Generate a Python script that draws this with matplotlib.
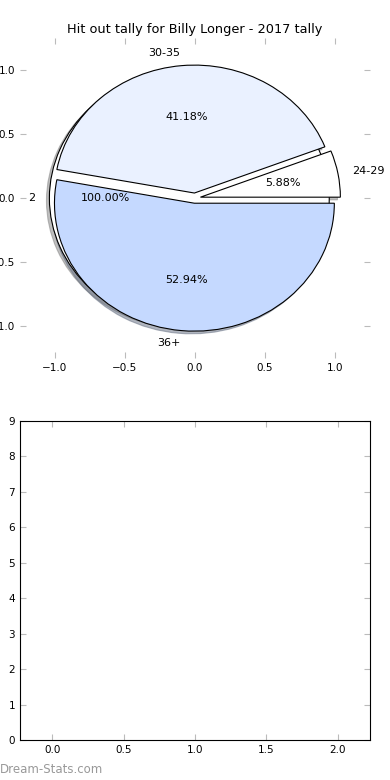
import matplotlib
matplotlib.use("Agg")
import matplotlib.pyplot as plt

# dati della torta
fasce = ["24-29", "30-35", "36+"]
valori = [1, 7, 9]
colori = ["#ffffff", "#eaf1ff", "#c5d9ff"]

# torta di sfondo (un solo spicchio)
sfondo_label = ["2"]
sfondo_val = [2]

# barre (tutte a zero)
barre_x = [0, 1, 2]
barre_y = [0, 0, 0]

titolo = "Hit out tally for Billy Longer - 2017 tally"

ombra = {"ox": -0.015, "oy": -0.015, "shade": 0.5}
bordi = {"edgecolor": "black", "linewidth": 0.8}

fig = plt.figure(figsize=(3.9, 7.8), dpi=100)

ax1 = fig.add_axes([0.0513, 0.541, 0.897, 0.41])
ax1.pie(sfondo_val, labels=sfondo_label, autopct="%1.2f%%", colors=["white"],
        explode=[0.04], shadow=ombra, frame=True, wedgeprops=bordi,
        textprops={"fontsize": 8})
ax1.pie(valori, labels=fasce, autopct="%1.2f%%", colors=colori,
        explode=[0.04, 0.04, 0.04], shadow=ombra, frame=True,
        wedgeprops=bordi, textprops={"fontsize": 8})
ax1.set_aspect("auto")
ax1.set_xlim(-1.25, 1.25)
ax1.set_ylim(-1.25, 1.25)
ax1.set_xticks([-1.0, -0.5, 0.0, 0.5, 1.0])
ax1.set_yticks([-1.0, -0.5, 0.0, 0.5, 1.0])
for s in ax1.spines.values():
    s.set_visible(False)
ax1.tick_params(direction="in", color="#bbbbbb", length=4, labelsize=7.5,
                top=True, right=True)
ax1.set_title(titolo, fontsize=9.3, pad=4)

ax2 = fig.add_axes([0.0513, 0.0513, 0.897, 0.409])
ax2.bar(barre_x, barre_y, width=0.45)
ax2.set_xlim(-0.225, 2.225)
ax2.set_ylim(0, 9)
ax2.set_xticks([0.0, 0.5, 1.0, 1.5, 2.0])
ax2.set_xticklabels(["0.0", "0.5", "1.0", "1.5", "2.0"])
ax2.set_yticks(range(10))
ax2.tick_params(direction="in", color="#bbbbbb", length=4, labelsize=7.5,
                top=True, right=True)

fig.text(0.0, 0.005, "Dream-Stats.com", fontsize=8.5, color="#999999",
         ha="left", va="bottom")

fig.savefig("out.png", dpi=100)
